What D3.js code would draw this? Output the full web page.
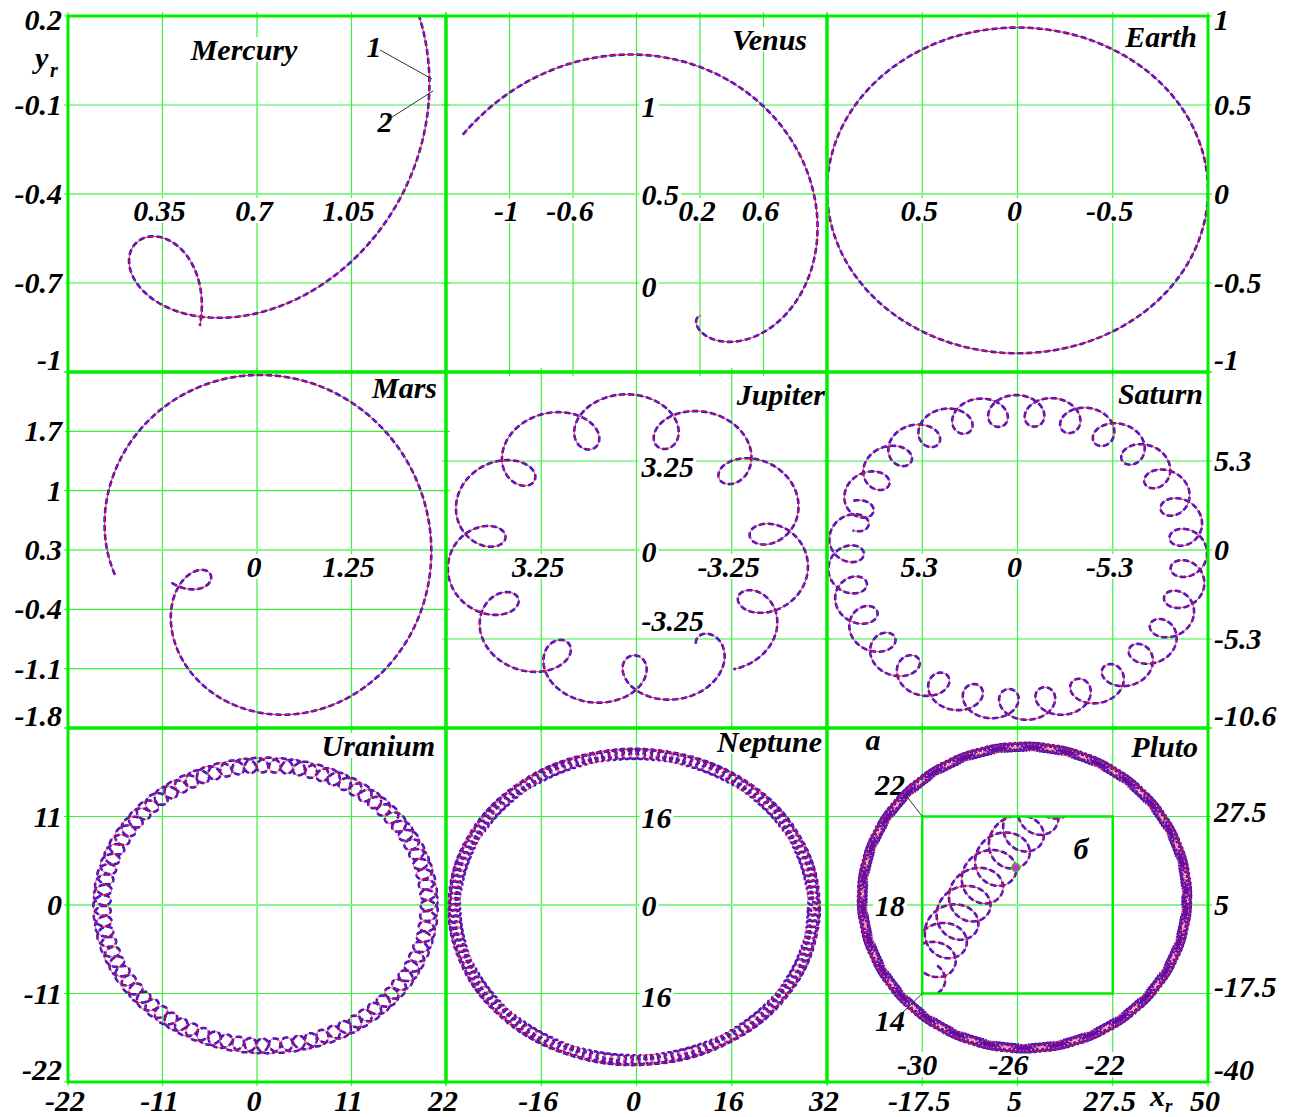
<!DOCTYPE html>
<html>
<head>
<meta charset="utf-8">
<script src="https://cdn.jsdelivr.net/npm/d3@7"></script>
<style>
body { margin: 0; background: #fff; }
text { font-family: "Liberation Serif", "Times New Roman", serif; font-weight: bold; font-style: italic; fill: #000; }
</style>
</head>
<body>
<svg id="chart" width="1296" height="1117"></svg>
<script>
// panel edges in pixels
const COLS = [68, 446, 827, 1208];
const ROWS = [16, 372, 728, 1082];
const K = 0.917; // cos of ecliptic tilt, squashes y

const planetNames = ["Mercury", "Venus", "Earth", "Mars", "Jupiter", "Saturn", "Uranium", "Neptune", "Pluto"];
const xDomains = [[0, 1.4], [-1.4, 1.0], [1, -1], [-2.5, 2.5], [6.5, -6.5], [10.6, -10.6], [-22, 22], [-32, 32], [-40, 50]];
const yDomains = [[-1, 0.2], [-0.5, 1.5], [-1, 1], [-1.8, 2.4], [-6.5, 6.5], [-10.6, 10.6], [-22, 22], [-32, 32], [-40, 50]];
const xDivisions = [4, 6, 4, 4, 4, 4, 4, 4, 4];
const yDivisions = [4, 4, 4, 6, 4, 4, 4, 4, 4];

// orbit model: deferent + epicycle (Kepler ellipses)
const deferentRadius = [1, 1, 1, 1.524, 5.2, 9.55, 19.05, 30.2, 38.35];
const deferentPeriod = [1, 1, 1, 1.881, 11.86, 29.46, 84.0, 164.8, 248];
const deferentEcc = [0, 0, 0, 0.0934, 0, 0, 0, 0, 0];
const deferentAnomaly0 = [0, 0, 0, 122.5, 0, 0, 0, 0, 0];
const epicycleRadius = [0.387, 0.72, 0, 1, 1, 1, 1, 1, 1];
const epicyclePeriod = [0.2408, 0.615, 1, 1, 1, 1, 1, 1, 1];
const epicycleEcc = [0.2056, 0, 0, 0, 0, 0, 0, 0, 0];
const epicycleAnomaly0 = [-40, 0, 0, 0, 0, 0, 0, 0, 0];
const conjunctionDeg = [-63, -48, 0, 184, 234, 20, 0, 0, 0];
const turnSign = [-1, -1, 1, -1, 1, 1, 1, 1, 1];
const centerX = [0, 0, 0, 0, 0.3, 0, 1.0, -0.4, 6.65];
const centerY = [0, 0, 0.022, 0, 0, -0.49, -0.07, -0.4, 6.9];
const yFactor = [K, K, 0.915, K, K, K, K, K, 1];
const timeStart = [-0.22, -0.59, 0, -1.66, -0.1, -0.3, 0, 0, 0];
const timeEnd = [0.048, 0.02, 1, 0.22, 11.6, 29.2, 84.0, 164.8, 248];

// tick labels
const xTickValues = [[0.35, 0.7, 1.05], [-1, -0.6, 0.2, 0.6], [0.5, 0, -0.5], [0, 1.25], [3.25, -3.25], [5.3, 0, -5.3],
  [-22, -11, 0, 11, 22], [-16, 0, 16, 32], [-17.5, 5, 27.5, 50]];
const xTickTexts = [["0.35", "0.7", "1.05"], ["-1", "-0.6", "0.2", "0.6"], ["0.5", "0", "-0.5"], ["0", "1.25"], ["3.25", "-3.25"], ["5.3", "0", "-5.3"],
  ["-22", "-11", "0", "11", "22"], ["-16", "0", "16", "32"], ["-17.5", "5", "27.5", "50"]];
const yTickValues = [[0.2, -0.1, -0.4, -0.7, -1], [1, 0.5, 0], [1, 0.5, 0, -0.5, -1], [1.7, 1, 0.3, -0.4, -1.1, -1.8], [3.25, 0, -3.25],
  [5.3, 0, -5.3, -10.6], [11, 0, -11, -22], [16, 0, -16], [27.5, 5, -17.5, -40]];
const yTickTexts = [["0.2", "-0.1", "-0.4", "-0.7", "-1"], ["1", "0.5", "0"], ["1", "0.5", "0", "-0.5", "-1"], ["1.7", "1", "0.3", "-0.4", "-1.1", "-1.8"],
  ["3.25", "0", "-3.25"], ["5.3", "0", "-5.3", "-10.6"], ["11", "0", "-11", "-22"], ["16", "0", "16"], ["27.5", "5", "-17.5", "-40"]];

// zoomed inset of Pluto
const insetXDomain = [-30, -22];
const insetYDomain = [14, 22];
const insetXTicks = [-30, -26, -22];
const insetYTicks = [22, 18, 14];
const insetCenter = [4.3, -2.4];
const insetConjDeg = 152;
const insetTime = [-1.2, 12];
const insetMarker = [-26.07, 19.7];

// layout (pixels)
const xLabelMode = ["in", "in", "in", "in", "in", "in", "out", "out", "out"];
const xLabelLevel = [-0.4, 0.5, 0, 0.3, 0, 0, null, null, null];
const yLabelMode = ["left", "in", "right", "left", "in", "right", "left", "in", "right"];
const yLabelAt = [null, -0.2, null, null, 0, null, null, 0, null];
const yLabelShift = [[], [2, 1, 4], [], [], [6, 2, -18], [], [], [1, 1, 3], [-5, 0, -7, 0]];
const namePos = [[244, 60, "middle"], [807, 50, "end"], [1197, 47, "end"], [437, 398, "end"], [825, 405, "end"],
  [1203, 404, "end"], [435, 756, "end"], [822, 752, "end"], [1198, 757, "end"]];
const FONT = 30;

const svg = d3.select("#chart");
const defs = svg.append("defs");
const gridLayer = svg.append("g");
const labelLayer = svg.append("g");
const curveLayer = svg.append("g");
const frameLayer = svg.append("g");

function addLabel(x, y, str, anchor, size) {
  const g = labelLayer.append("g");
  const rect = g.append("rect").attr("fill", "#fff");
  const t = g.append("text")
    .attr("x", x).attr("y", y)
    .attr("text-anchor", anchor || "middle")
    .attr("font-size", size || FONT)
    .text(str);
  const b = t.node().getBBox();
  rect.attr("x", b.x - 2).attr("y", b.y + 4).attr("width", b.width + 4).attr("height", b.height - 8);
  return t;
}

// position on a Kepler ellipse: returns [r, true anomaly]
function kepler(a, e, M) {
  let E = M;
  for (let k = 0; k < 10; k++) E -= (E - e * Math.sin(E) - M) / (1 - e * Math.cos(E));
  const nu = 2 * Math.atan2(Math.sqrt(1 + e) * Math.sin(E / 2), Math.sqrt(1 - e) * Math.cos(E / 2));
  return [a * (1 - e * Math.cos(E)), nu];
}

function body(a, e, T, M0deg, theta0, s, t) {
  const M0 = M0deg * Math.PI / 180;
  const nu0 = kepler(a, e, M0)[1];
  const [r, nu] = kepler(a, e, M0 + 2 * Math.PI * t / T);
  const th = theta0 + s * (nu - nu0);
  return [r * Math.cos(th), r * Math.sin(th)];
}

function orbit(p) {
  const a0 = p.a0 * Math.PI / 180;
  const step = Math.min(p.TA, p.TB) / 160;
  const pts = [];
  for (let t = p.t0; t <= p.t1 + 1e-9; t += step) {
    const d = body(p.A, p.eA, p.TA, p.MA, a0, p.s, t);
    const e = body(p.B, p.eB, p.TB, p.MB, a0 + Math.PI, p.s, t);
    pts.push([p.cx + d[0] + e[0], p.ky * (p.cy + d[1] + e[1])]);
  }
  return pts;
}

function drawCurve(g, pts, x, y) {
  const line = d3.line().x(d => x(d[0])).y(d => y(d[1]));
  const d = line(pts);
  g.append("path").attr("d", d).attr("fill", "none")
    .attr("stroke", "#1010ff").attr("stroke-width", 2.6).attr("stroke-dasharray", "6 3");
  g.append("path").attr("d", d).attr("fill", "none")
    .attr("stroke", "#ff1010").attr("stroke-width", 1);
}

function params(i) {
  return {
    A: deferentRadius[i], TA: deferentPeriod[i], eA: deferentEcc[i], MA: deferentAnomaly0[i],
    B: epicycleRadius[i], TB: epicyclePeriod[i], eB: epicycleEcc[i], MB: epicycleAnomaly0[i],
    a0: conjunctionDeg[i], s: turnSign[i], cx: centerX[i], cy: centerY[i], ky: yFactor[i],
    t0: timeStart[i], t1: timeEnd[i]
  };
}

planetNames.forEach((name, i) => {
  const col = i % 3, row = Math.floor(i / 3);
  const x0 = COLS[col], x1 = COLS[col + 1], y0 = ROWS[row], y1 = ROWS[row + 1];
  const x = d3.scaleLinear().domain(xDomains[i]).range([x0, x1]);
  const y = d3.scaleLinear().domain(yDomains[i]).range([y1, y0]);

  // grid
  const xd = xDomains[i], yd = yDomains[i];
  const xs = d3.range(xDivisions[i] + 1).map(j => xd[0] + j * (xd[1] - xd[0]) / xDivisions[i]);
  const ys = d3.range(yDivisions[i] + 1).map(j => yd[0] + j * (yd[1] - yd[0]) / yDivisions[i]);
  gridLayer.selectAll(null).data(xs).enter().append("line")
    .attr("x1", d => x(d)).attr("x2", d => x(d)).attr("y1", y0 - 4).attr("y2", y1 + 4)
    .attr("stroke", "#3cf03c").attr("stroke-width", 1.2);
  gridLayer.selectAll(null).data(ys).enter().append("line")
    .attr("x1", x0 - 4).attr("x2", x1 + 4).attr("y1", d => y(d)).attr("y2", d => y(d))
    .attr("stroke", (d, j) => j === yDivisions[i] / 2 ? "#86f786" : "#3cf03c")
    .attr("stroke-width", (d, j) => j === yDivisions[i] / 2 ? 2.2 : 1.2);

  // x tick labels
  xTickValues[i].forEach((v, j) => {
    const base = xLabelMode[i] === "in" ? y(xLabelLevel[i]) + 27 : 1111;
    addLabel(x(v) - 3, base, xTickTexts[i][j], "middle");
  });

  // y tick labels
  yTickValues[i].forEach((v, j) => {
    const shift = (yLabelShift[i] && yLabelShift[i][j]) || 0;
    const c = Math.max(y0 + 4, Math.min(y1 - 12, y(v) + shift));
    const base = c + 10;
    if (yLabelMode[i] === "left") addLabel(62, base, yTickTexts[i][j], "end");
    else if (yLabelMode[i] === "right") addLabel(1214, base, yTickTexts[i][j], "start");
    else addLabel(x(yLabelAt[i]) + 5, base, yTickTexts[i][j], "start");
  });

  // planet name
  addLabel(namePos[i][0], namePos[i][1], name, namePos[i][2], 30);

  // curve, clipped to its panel
  const clipId = "clip" + i;
  defs.append("clipPath").attr("id", clipId).append("rect")
    .attr("x", x0).attr("y", y0).attr("width", x1 - x0).attr("height", y1 - y0);
  const g = curveLayer.append("g").attr("clip-path", `url(#${clipId})`);
  drawCurve(g, orbit(params(i)), x, y);

  // Pluto inset
  if (name === "Pluto") {
    const xi = d3.scaleLinear().domain(insetXDomain).range([x(-17.5), x(27.5)]);
    const yi = d3.scaleLinear().domain(insetYDomain).range([y(-17.5), y(27.5)]);
    defs.append("clipPath").attr("id", "clipInset").append("rect")
      .attr("x", xi(-30)).attr("y", yi(22)).attr("width", xi(-22) - xi(-30)).attr("height", yi(14) - yi(22));
    const gi = curveLayer.append("g").attr("clip-path", "url(#clipInset)");
    const p = params(i);
    p.cx = insetCenter[0]; p.cy = insetCenter[1]; p.a0 = insetConjDeg; p.s = -1;
    p.t0 = insetTime[0]; p.t1 = insetTime[1];
    drawCurve(gi, orbit(p), xi, yi);
    curveLayer.append("circle").attr("cx", xi(insetMarker[0])).attr("cy", yi(insetMarker[1])).attr("r", 4)
      .attr("fill", "#e020e0").attr("stroke", "#20d020").attr("stroke-width", 1.5);
    frameLayer.append("rect")
      .attr("x", xi(-30)).attr("y", yi(22)).attr("width", xi(-22) - xi(-30)).attr("height", yi(14) - yi(22))
      .attr("fill", "none").attr("stroke", "#00ee00").attr("stroke-width", 2.5);
    // inset ticks
    const insetYShift = [-32, 1, 27];
    insetYTicks.forEach((v, j) => addLabel(905, yi(v) + insetYShift[j] + 10, String(v), "end"));
    const insetXShift = [-5, -9, -8];
    insetXTicks.forEach((v, j) => addLabel(xi(v) + insetXShift[j], 1075, String(v), "middle"));
    frameLayer.append("line").attr("x1", 905).attr("y1", 794).attr("x2", xi(-30)).attr("y2", yi(22))
      .attr("stroke", "#333").attr("stroke-width", 1);
    frameLayer.append("line").attr("x1", 900).attr("y1", 1015).attr("x2", xi(-30)).attr("y2", yi(14))
      .attr("stroke", "#333").attr("stroke-width", 1);
    addLabel(873, 750, "а", "middle");
    addLabel(1081, 859, "б", "middle");
  }
});

// panel frames
d3.range(9).forEach(i => {
  const col = i % 3, row = Math.floor(i / 3);
  frameLayer.append("rect")
    .attr("x", COLS[col]).attr("y", ROWS[row])
    .attr("width", COLS[col + 1] - COLS[col]).attr("height", ROWS[row + 1] - ROWS[row])
    .attr("fill", "none").attr("stroke", "#00ee00").attr("stroke-width", 3);
});

// curve markers 1 and 2 in Mercury
addLabel(374, 57, "1", "middle");
addLabel(385, 132, "2", "middle");
frameLayer.append("line").attr("x1", 380).attr("y1", 50).attr("x2", 432).attr("y2", 79).attr("stroke", "#333").attr("stroke-width", 1);
frameLayer.append("line").attr("x1", 389).attr("y1", 119).attr("x2", 433).attr("y2", 91).attr("stroke", "#333").attr("stroke-width", 1);

// axis names
svg.append("text").attr("x", 35).attr("y", 68).attr("font-size", FONT).text("y");
svg.append("text").attr("x", 50).attr("y", 77).attr("font-size", 20).text("r");
svg.append("text").attr("x", 1150).attr("y", 1106).attr("font-size", FONT).text("x");
svg.append("text").attr("x", 1165).attr("y", 1112).attr("font-size", 19).text("r");
</script>
</body>
</html>
